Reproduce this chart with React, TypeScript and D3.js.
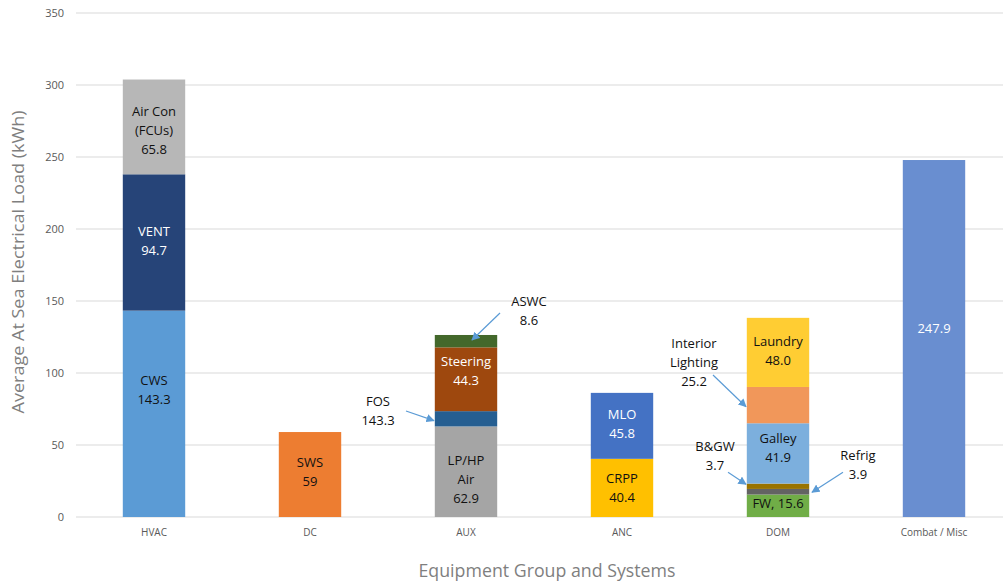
import React from "react";
import * as d3 from "d3";

const categories = ["HVAC", "DC", "AUX", "ANC", "DOM", "Combat  / Misc"];

// stacked segments per category (bottom to top); off = label nudge in px
const hvacSegments = [
  { name: "CWS", value: 143.3, color: "#5B9BD5", label: ["CWS", "143.3"], text: "#111", off: -24 },
  { name: "VENT", value: 94.7, color: "#264478", label: ["VENT", "94.7"], text: "#fff", off: -2 },
  { name: "Air Con", value: 65.8, color: "#B7B7B7", label: ["Air Con", "(FCUs)", "65.8"], text: "#111", off: 4 },
];
const dcSegments = [
  { name: "SWS", value: 59, color: "#ED7D31", label: ["SWS", "59"], text: "#111", off: -3 },
];
const auxSegments = [
  { name: "LP/HP Air", value: 62.9, color: "#A5A5A5", label: ["LP/HP", "Air", "62.9"], text: "#111", off: 8 },
  { name: "FOS", value: 10.6, color: "#255E91", label: [], text: "#fff", off: 0 },
  { name: "Steering", value: 44.3, color: "#9E480E", label: ["Steering", "44.3"], text: "#fff", off: -8 },
  { name: "ASWC", value: 8.6, color: "#43682B", label: [], text: "#fff", off: 0 },
];
const ancSegments = [
  { name: "CRPP", value: 40.4, color: "#FFC000", label: ["CRPP", "40.4"], text: "#111", off: 0 },
  { name: "MLO", value: 45.8, color: "#4472C4", label: ["MLO", "45.8"], text: "#fff", off: -2 },
];
const domSegments = [
  { name: "FW", value: 15.6, color: "#70AD47", label: ["FW, 15.6"], text: "#111", off: -2 },
  { name: "Refrig", value: 3.9, color: "#636363", label: [], text: "#fff", off: 0 },
  { name: "B&GW", value: 3.7, color: "#997300", label: [], text: "#fff", off: 0 },
  { name: "Galley", value: 41.9, color: "#7CAFDD", label: ["Galley", "41.9"], text: "#111", off: -5 },
  { name: "Interior Lighting", value: 25.2, color: "#F1975A", label: [], text: "#111", off: 0 },
  { name: "Laundry", value: 48.0, color: "#FFCD33", label: ["Laundry", "48.0"], text: "#111", off: -1 },
];
const combatSegments = [
  { name: "Combat / Misc", value: 247.9, color: "#698ED0", label: ["247.9"], text: "#fff", off: -10 },
];

const seriesByCategory = [hvacSegments, dcSegments, auxSegments, ancSegments, domSegments, combatSegments];

const yTicks = [0, 50, 100, 150, 200, 250, 300, 350];

// callouts: text lines, text centre (x offset from category centre, y in data units), arrow start/end
const callouts = [
  { cat: "AUX", lines: ["ASWC", "8.6"], tx: 63, tyVal: 142.9, ax: 34, ayVal: 141.7, bx: 6, byVal: 122.9 },
  { cat: "AUX", lines: ["FOS", "143.3"], tx: -88, tyVal: 73.6, ax: -60, ayVal: 73.6, bx: -32, byVal: 66.9 },
  { cat: "DOM", lines: ["Interior", "Lighting", "25.2"], tx: -84, tyVal: 107.6, ax: -65, ayVal: 98.6, bx: -32, byVal: 76.6 },
  { cat: "DOM", lines: ["B&GW", "3.7"], tx: -63, tyVal: 42.4, ax: -50, ayVal: 31, bx: -32, byVal: 22.7 },
  { cat: "DOM", lines: ["Refrig", "3.9"], tx: 80, tyVal: 35.9, ax: 65, ayVal: 31, bx: 34, byVal: 17.2 },
];

const W = 1003;
const H = 584;
const FONT = "'Open Sans', 'Noto Sans', sans-serif";

export default function App() {
  const left = 76;
  const top = 13;
  const bottom = 517;
  const x = d3.scaleBand<string>().domain(categories).range([left, left + 936]).paddingInner(0.6).paddingOuter(0.3);
  const y = d3.scaleLinear().domain([0, 350]).range([bottom, top]);
  const bw = x.bandwidth();
  const cx = (c: string) => (x(c) as number) + bw / 2;
  const lh = 19;

  return (
    <svg width={W} height={H} style={{ position: "absolute", left: 0, top: 0, background: "#fff" }} fontFamily={FONT}>
      <defs>
        <marker id="arr" viewBox="0 0 10 10" refX="9" refY="5" markerWidth="7" markerHeight="7" orient="auto-start-reverse">
          <path d="M0,0 L10,5 L0,10 z" fill="#5B9BD5" />
        </marker>
      </defs>
      <rect width={W} height={H} fill="#fff" />
      {yTicks.map((t) => (
        <g key={t}>
          <line x1={left} x2={W} y1={y(t)} y2={y(t)} stroke="#D9D9D9" strokeWidth={1} />
          <text x={64} y={y(t)} dy="0.35em" textAnchor="end" fontSize={11} fill="#595959">{t}</text>
        </g>
      ))}
      {categories.map((c, i) => {
        const segs = seriesByCategory[i];
        let acc = 0;
        return (
          <g key={c}>
            {segs.map((s) => {
              const y0 = acc;
              const y1 = acc + s.value;
              acc = y1;
              const yt = y(y1);
              const yb = y(y0);
              const mid = (yt + yb) / 2 + s.off;
              const n = s.label.length;
              return (
                <g key={s.name}>
                  <rect x={x(c)} y={yt} width={bw} height={yb - yt} fill={s.color} />
                  {s.label.map((l, k) => (
                    <text key={k} x={cx(c)} y={mid + (k - (n - 1) / 2) * lh} dy="0.35em" textAnchor="middle" fontSize={13} fill={s.text}>{l}</text>
                  ))}
                </g>
              );
            })}
            <text x={cx(c)} y={532} dy="0.35em" textAnchor="middle" fontSize={10} fill="#595959">{c}</text>
          </g>
        );
      })}
      {callouts.map((co, i) => {
        const c0 = cx(co.cat);
        const n = co.lines.length;
        return (
          <g key={i}>
            {co.lines.map((l, k) => (
              <text key={k} x={c0 + co.tx} y={y(co.tyVal) + (k - (n - 1) / 2) * lh} dy="0.35em" textAnchor="middle" fontSize={13} fill="#111">{l}</text>
            ))}
            <line x1={c0 + co.ax} y1={y(co.ayVal)} x2={c0 + co.bx} y2={y(co.byVal)} stroke="#5B9BD5" strokeWidth={1.2} markerEnd="url(#arr)" />
          </g>
        );
      })}
      <text transform={`translate(24,262) rotate(-90)`} textAnchor="middle" fontSize={17} textLength={303} lengthAdjust="spacingAndGlyphs" fill="#7F7F7F">Average At Sea Electrical Load (kWh)</text>
      <text x={547} y={571} dy="0.35em" textAnchor="middle" fontSize={17.5} textLength={257} lengthAdjust="spacingAndGlyphs" fill="#7F7F7F">Equipment Group and Systems</text>
    </svg>
  );
}
